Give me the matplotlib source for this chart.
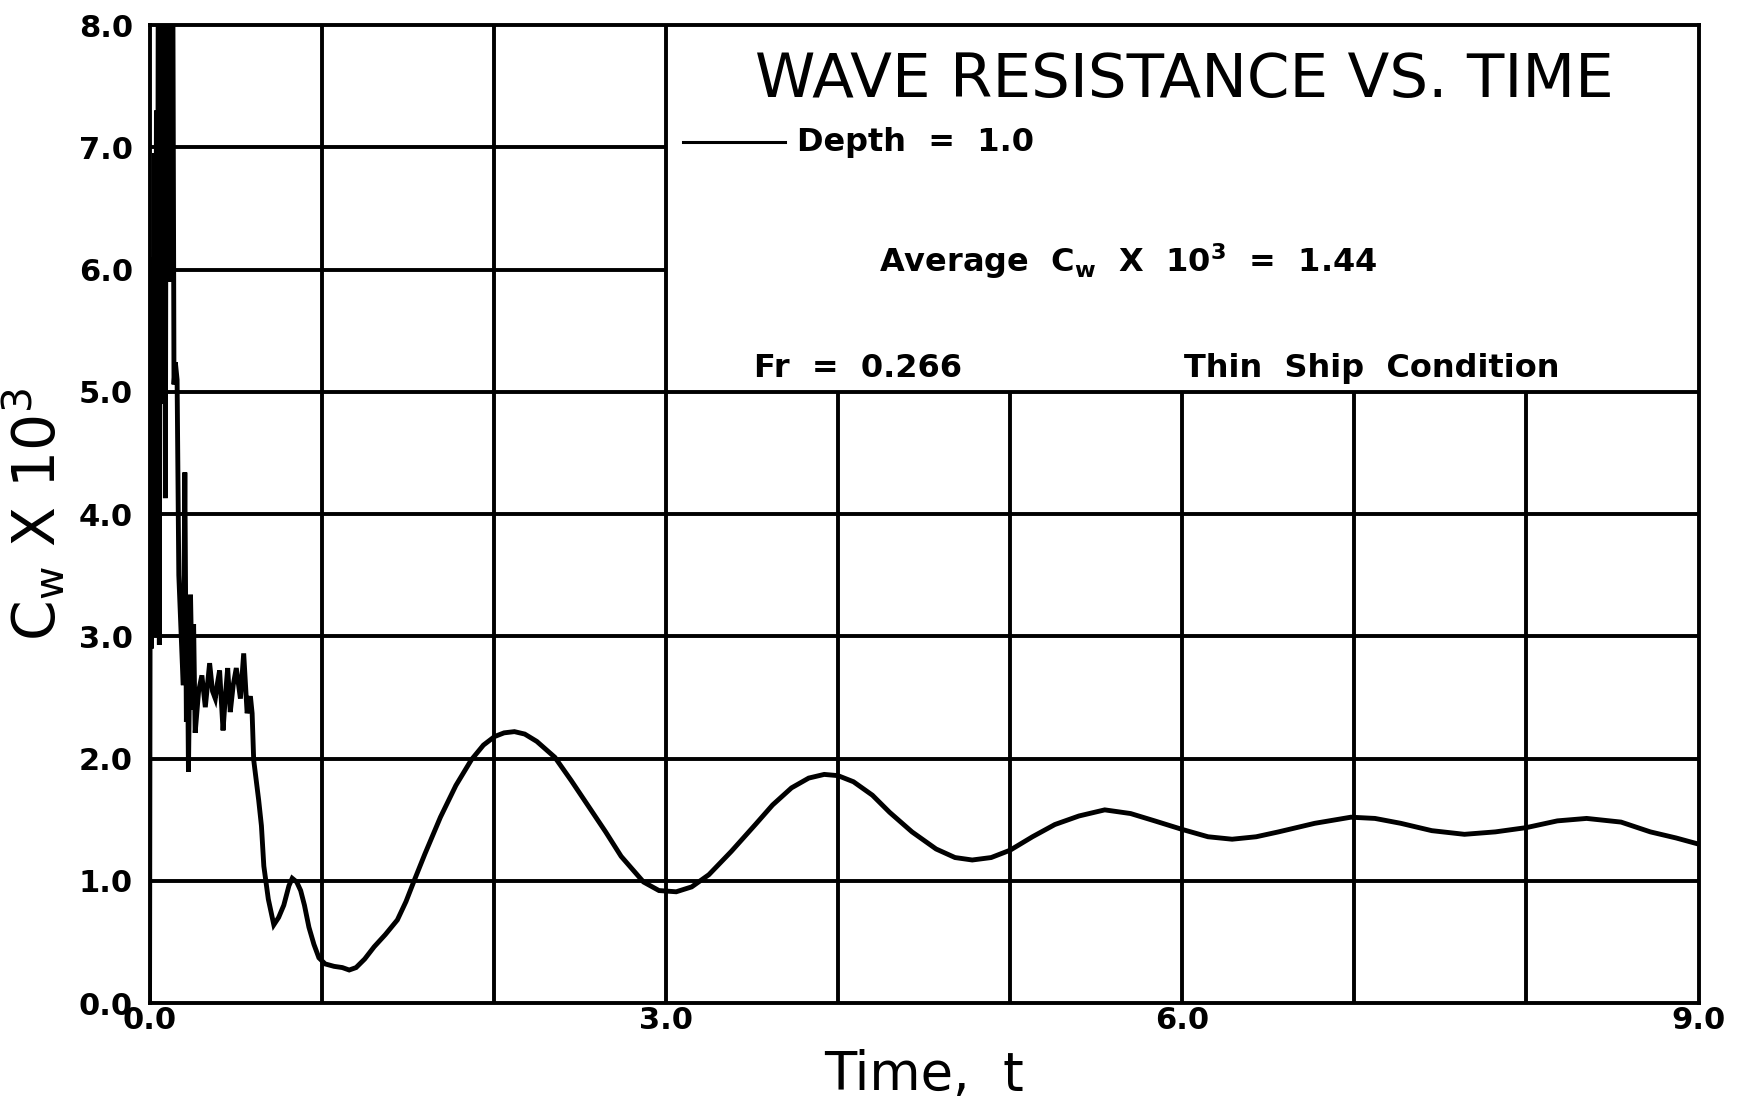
# Librerias

import matplotlib.pyplot as plt

# Datos (t, Cw x 10^3)

# Transitorio inicial, los picos se salen por arriba de 8.0
T_Picos = [0.000, 0.005, 0.010, 0.016, 0.022, 0.028, 0.033, 0.040, 0.046, 0.051,
           0.057, 0.063, 0.069, 0.075, 0.081, 0.087, 0.092, 0.098, 0.104, 0.110,
           0.116, 0.122, 0.128, 0.134, 0.142, 0.150, 0.160, 0.170, 0.190, 0.196,
           0.205, 0.214, 0.220, 0.226, 0.238, 0.250, 0.256]
CW_Picos = [0.00, 4.90, 2.90, 6.10, 4.70, 6.95, 3.00, 7.30, 4.20, 8.90,
            2.93, 9.40, 5.60, 9.00, 4.90, 9.60, 4.13, 9.30, 6.30, 9.80,
            5.90, 9.20, 6.40, 9.00, 5.06, 5.24, 5.10, 3.50, 2.79, 2.60,
            4.34, 2.30, 3.00, 1.89, 3.34, 2.40, 3.10]

# Zona con ruido alrededor de 2.5
T_Ruido = [0.265, 0.285, 0.304, 0.324, 0.349, 0.366, 0.382, 0.395, 0.407, 0.427,
           0.440, 0.454, 0.469, 0.486, 0.504, 0.528, 0.547, 0.567, 0.586, 0.596]
CW_Ruido = [2.21, 2.55, 2.68, 2.42, 2.78, 2.55, 2.49, 2.62, 2.72, 2.23,
            2.50, 2.74, 2.38, 2.60, 2.74, 2.49, 2.86, 2.37, 2.51, 2.37]

# Oscilacion suave
T_Suave = [0.605, 0.634, 0.650, 0.664, 0.690, 0.722, 0.750, 0.780, 0.810, 0.829,
           0.855, 0.878, 0.900, 0.926, 0.955, 0.984, 1.020, 1.072, 1.120, 1.160,
           1.200, 1.250, 1.305, 1.370, 1.440, 1.490, 1.540, 1.600, 1.690, 1.780,
           1.870, 1.940, 2.005, 2.060, 2.120, 2.180, 2.250, 2.355, 2.450, 2.550,
           2.650, 2.740, 2.870, 2.960, 3.060, 3.150, 3.250, 3.380, 3.520, 3.620,
           3.730, 3.830, 3.920, 4.000, 4.090, 4.200, 4.300, 4.430, 4.570, 4.680,
           4.780, 4.890, 5.000, 5.130, 5.260, 5.400, 5.550, 5.700, 5.840, 6.000,
           6.150, 6.290, 6.430, 6.560, 6.770, 6.980, 7.120, 7.270, 7.450, 7.640,
           7.820, 8.000, 8.180, 8.350, 8.550, 8.720, 8.870, 9.000]
CW_Suave = [1.99, 1.66, 1.45, 1.12, 0.85, 0.64, 0.70, 0.80, 0.96, 1.02,
            0.99, 0.92, 0.80, 0.62, 0.48, 0.37, 0.32, 0.30, 0.29, 0.27,
            0.29, 0.36, 0.46, 0.56, 0.68, 0.83, 1.01, 1.22, 1.52, 1.78,
            1.99, 2.11, 2.18, 2.21, 2.22, 2.20, 2.14, 2.01, 1.82, 1.61,
            1.40, 1.20, 0.99, 0.92, 0.91, 0.95, 1.05, 1.24, 1.46, 1.62,
            1.76, 1.84, 1.87, 1.86, 1.81, 1.70, 1.56, 1.40, 1.26, 1.19,
            1.17, 1.19, 1.25, 1.36, 1.46, 1.53, 1.58, 1.55, 1.49, 1.42,
            1.36, 1.34, 1.36, 1.40, 1.47, 1.52, 1.51, 1.47, 1.41, 1.38,
            1.40, 1.435, 1.49, 1.51, 1.48, 1.40, 1.35, 1.30]

T = T_Picos + T_Ruido + T_Suave
CW = CW_Picos + CW_Ruido + CW_Suave

X_Ticks = [0.0, 3.0, 6.0, 9.0]
Y_Ticks = [0.0, 1.0, 2.0, 3.0, 4.0, 5.0, 6.0, 7.0, 8.0]

# Figura

fig = plt.figure(figsize=(17.41, 11.12), dpi=100)
ax = fig.add_axes([0.0859, 0.098, 0.8897, 0.8795])

# Rejilla: el cuadro de arriba a la derecha queda libre para el texto
for x in [1, 2, 3]:
    ax.vlines(x, 0, 8, color='black', lw=2.8)
for x in [4, 5, 6, 7, 8]:
    ax.vlines(x, 0, 5, color='black', lw=2.8)
for y in [1, 2, 3, 4, 5]:
    ax.hlines(y, 0, 9, color='black', lw=2.8)
for y in [6, 7]:
    ax.hlines(y, 0, 3, color='black', lw=2.8)

# Curva
ax.plot(T, CW, color='black', lw=3.5, solid_joinstyle='miter')

ax.set_xlim(0, 9)
ax.set_ylim(0, 8)
ax.set_xticks(X_Ticks)
ax.set_yticks(Y_Ticks)
ax.set_xticklabels(['%.1f' % v for v in X_Ticks], fontsize=22, fontweight='bold')
ax.set_yticklabels(['%.1f' % v for v in Y_Ticks], fontsize=22, fontweight='bold')
ax.tick_params(axis='x', length=0, pad=2)
ax.tick_params(axis='y', length=0, pad=12)
for s in ax.spines.values():
    s.set_linewidth(2.8)

# Textos
ax.text(6.01, 7.55, 'WAVE RESISTANCE VS. TIME', fontsize=44, ha='center', va='center')
ax.plot([3.10, 3.69], [7.04, 7.04], color='black', lw=2.2)
ax.text(3.76, 7.04, 'Depth  =  1.0', fontsize=23, fontweight='bold', ha='left', va='center')
ax.text(4.24, 6.07, r'Average  C$_\mathbf{w}$  X  10$^\mathbf{3}$  =  1.44', fontsize=23,
        fontweight='bold', ha='left', va='center')
ax.text(3.51, 5.19, 'Fr  =  0.266', fontsize=23, fontweight='bold', ha='left', va='center')
ax.text(6.01, 5.19, 'Thin  Ship  Condition', fontsize=23, fontweight='bold',
        ha='left', va='center')

ax.set_xlabel('Time,  t', fontsize=38, labelpad=10)
ax.set_ylabel(r'C$_\mathrm{w}$ X 10$^\mathrm{3}$', fontsize=42, labelpad=8)

plt.savefig('out.png', dpi=100)
